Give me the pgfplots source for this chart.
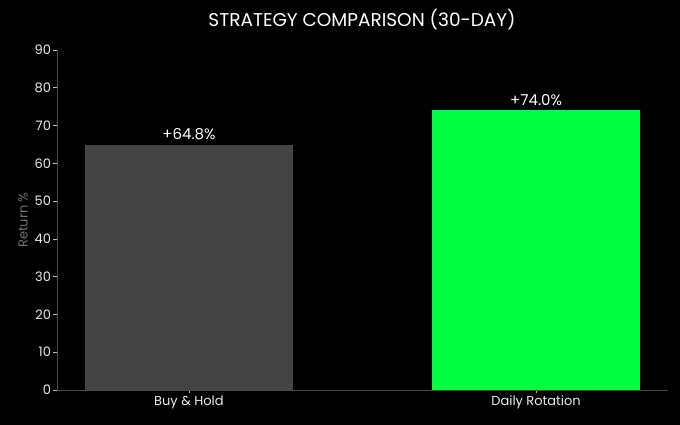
\documentclass[border=0pt]{standalone}
\usepackage{fontspec}
\setmainfont{Poppins}
\usepackage{pgfplots}
\pgfplotsset{compat=1.18}
\definecolor{bargray}{HTML}{444444}
\definecolor{bargreen}{HTML}{00FF41}
\definecolor{spine}{HTML}{4A4A4A}
\definecolor{labgray}{HTML}{707070}
\begin{document}
\begin{tikzpicture}[x=1pt,y=1pt]
\fill[black] (0,0) rectangle (680,425);
\useasboundingbox (0,0) rectangle (680,425);
\begin{axis}[
  at={(57pt,35pt)}, anchor=south west,
  scale only axis, width=611pt, height=340pt,
  xmin=-0.38, xmax=1.38, ymin=0, ymax=90,
  enlargelimits=false,
  axis x line*=bottom, axis y line*=left,
  axis line style={spine, line width=0.8pt},
  xtick={0,1}, xticklabels={Buy \& Hold, Daily Rotation},
  ytick={0,10,...,90},
  tick align=outside, major tick length=3.5pt,
  tick style={color=lightgray, line width=0.7pt},
  ticklabel style={font=\fontsize{13}{15}\selectfont, color=white!92!black},
  xticklabel style={yshift=1pt},
  yticklabel style={xshift=1pt},
  /pgf/number format/assume math mode=true,
  ylabel={\fontsize{13}{15}\selectfont Return \%},
  ylabel style={color=labgray, yshift=0pt},
  ybar, bar width=0.6, bar shift=0pt,
  point meta=explicit symbolic,
  nodes near coords,
  nodes near coords style={font=\fontsize{15}{18}\selectfont, color=white, anchor=south, yshift=1.5pt},
]
\addplot[fill=bargray, draw=none] coordinates {(0,64.8) [+64.8\%]};
\addplot[fill=bargreen, draw=none] coordinates {(1,74.0) [+74.0\%]};
\end{axis}
\node[text=white, font=\fontsize{18.5}{22}\selectfont] at (362,405.5) {STRATEGY COMPARISON (30-DAY)};
\end{tikzpicture}
\end{document}
